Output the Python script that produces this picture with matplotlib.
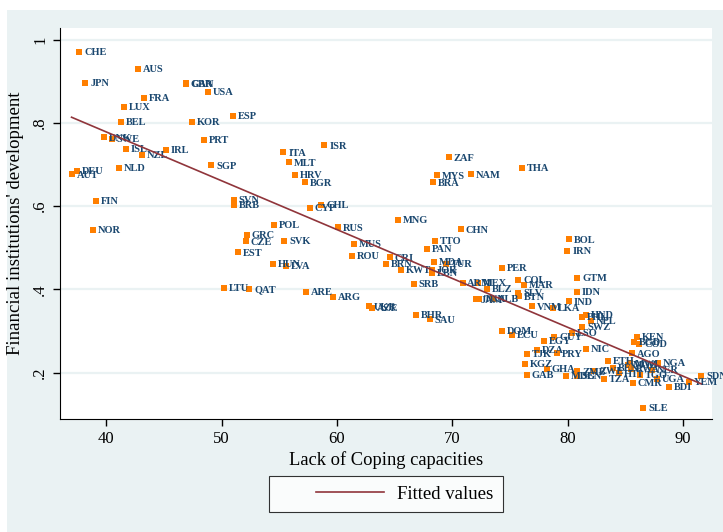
import matplotlib.pyplot as plt
from matplotlib.patches import Rectangle
from matplotlib.legend_handler import HandlerLine2D
import numpy as np

# country codes, lack of coping capacities (x), financial institutions development (y)
codes = ["CHE", "AUS", "JPN", "GBR", "CAN", "USA", "FRA", "LUX", "ESP", "BEL",
         "KOR", "DNK", "SWE", "PRT", "ISL", "IRL", "NZL", "ISR", "ITA", "MLT",
         "ZAF", "THA", "NLD", "SGP", "HRV", "MYS", "NAM", "DEU", "AUT", "BGR",
         "BRA", "FIN", "SVN", "BRB", "CYP", "CHL", "MNG", "NOR", "POL", "RUS",
         "CHN", "GRC", "TTO", "CZE", "SVK", "MUS", "BOL", "PAN", "IRN", "EST",
         "ROU", "CRI", "HUN", "LVA", "BRN", "MDA", "TUR", "KWT", "JOR", "LBN",
         "PER", "GTM", "SRB", "ARM", "MEX", "COL", "MAR", "BLZ", "IDN", "SLV",
         "BTN", "LTU", "QAT", "ARE", "ARG", "JAM", "TUN", "ALB", "IND", "UKR",
         "AZE", "VNM", "LKA", "BHR", "SAU", "HND", "PHL", "NPL", "SWZ", "LSO",
         "GUY", "DOM", "ECU", "EGY", "KEN", "BGD", "COD", "NIC", "DZA", "TJK",
         "PRY", "AGO", "ETH", "NGA", "MOZ", "MWI", "BEN", "RWA", "NER", "HTI",
         "TGO", "TZA", "CMR", "UGA", "BDI", "YEM", "SDN", "SLE", "KGZ", "GAB",
         "GHA", "MDG", "SEN", "ZMB", "ZWE"]
coping = [37.68, 42.72, 38.20, 46.88, 46.95, 48.84, 43.24, 41.52, 50.96, 41.32,
          47.40, 39.81, 40.50, 48.48, 41.72, 45.20, 43.12, 58.92, 55.36, 55.84,
          69.72, 76.00, 41.08, 49.12, 56.40, 68.68, 71.64, 37.44, 37.00, 57.24,
          68.32, 39.08, 51.04, 51.12, 57.64, 58.64, 65.32, 38.84, 54.52, 60.12,
          70.72, 52.20, 68.52, 52.08, 55.44, 61.48, 80.08, 67.80, 79.96, 51.44,
          61.28, 64.60, 54.44, 55.56, 64.28, 68.44, 69.44, 65.52, 68.20, 68.26,
          74.32, 80.84, 66.68, 70.88, 72.20, 75.72, 76.20, 73.00, 80.76, 75.72,
          75.80, 50.20, 52.40, 57.32, 59.68, 72.02, 72.31, 73.50, 80.08, 62.76,
          63.04, 76.92, 78.72, 66.88, 68.04, 81.59, 81.27, 82.00, 81.27, 80.35,
          78.85, 74.32, 75.16, 77.96, 86.04, 85.78, 86.21, 81.59, 77.36, 76.50,
          79.05, 85.60, 83.45, 87.83, 85.20, 85.40, 83.95, 85.49, 87.28, 84.42,
          86.27, 83.17, 85.64, 87.72, 88.79, 90.52, 91.56, 86.56, 76.30, 76.44,
          78.18, 79.83, 80.78, 80.83, 82.31]
findev = [0.971, 0.930, 0.897, 0.895, 0.893, 0.874, 0.860, 0.838, 0.816, 0.802,
          0.802, 0.765, 0.761, 0.760, 0.737, 0.735, 0.724, 0.746, 0.729, 0.705,
          0.717, 0.691, 0.691, 0.698, 0.675, 0.674, 0.676, 0.684, 0.676, 0.657,
          0.657, 0.612, 0.615, 0.603, 0.596, 0.602, 0.566, 0.542, 0.555, 0.549,
          0.544, 0.530, 0.516, 0.515, 0.517, 0.509, 0.520, 0.498, 0.493, 0.489,
          0.481, 0.477, 0.461, 0.456, 0.462, 0.466, 0.461, 0.446, 0.447, 0.439,
          0.451, 0.427, 0.414, 0.416, 0.416, 0.422, 0.410, 0.401, 0.394, 0.392,
          0.383, 0.403, 0.401, 0.394, 0.381, 0.376, 0.377, 0.378, 0.371, 0.359,
          0.356, 0.359, 0.355, 0.339, 0.328, 0.338, 0.333, 0.324, 0.310, 0.296,
          0.286, 0.300, 0.290, 0.277, 0.285, 0.273, 0.269, 0.256, 0.254, 0.244,
          0.246, 0.246, 0.228, 0.224, 0.218, 0.222, 0.212, 0.208, 0.206, 0.198,
          0.194, 0.184, 0.176, 0.184, 0.166, 0.178, 0.192, 0.116, 0.220, 0.195,
          0.208, 0.193, 0.192, 0.203, 0.204]

xticks = [40, 50, 60, 70, 80, 90]
yticks = [0.2, 0.4, 0.6, 0.8, 1.0]
ytick_labels = [".2", ".4", ".6", ".8", "1"]

plt.rcParams['font.family'] = ['Liberation Serif', 'DejaVu Serif']


# stata puts the legend key line on the right part of a wide key area
class RightLine(HandlerLine2D):
    def get_xdata(self, legend, xdescent, ydescent, width, height, fontsize):
        xd = np.array([-xdescent + width * 0.35, -xdescent + width])
        return xd, xd


x = np.array(coping)
y = np.array(findev)
b, a = np.polyfit(x, y, 1)
xfit = np.array([x.min(), x.max()])
yfit = a + b * xfit

fig = plt.figure(figsize=(7.23, 5.32), dpi=100, facecolor="white")
fig.patches.append(Rectangle((7 / 723, 0), 1, 1 - 10 / 532, transform=fig.transFigure,
                             facecolor="#eaf2f3", edgecolor="none", zorder=-10))
ax = fig.add_axes([60 / 723, 1 - 419 / 532, 652 / 723, 391 / 532])
ax.set_facecolor("white")

for t in yticks:
    ax.axhline(t, color="#eaf2f3", lw=1.6, zorder=0)

ax.scatter(x, y, marker="s", s=14, color="#ff7f00", zorder=3, linewidths=0)
for c, xi, yi in zip(codes, x, y):
    ax.annotate(c, (xi, yi), xytext=(3.5, -0.5), textcoords="offset points",
                va="center", ha="left", fontsize=7.5, fontweight="bold",
                color="#1a476f", zorder=4)
fit_line, = ax.plot(xfit, yfit, color="#90353b", lw=1.2, zorder=5, label="Fitted values")

ax.set_xlim(36, 92.5)
ax.set_ylim(0.0885, 1.028)
ax.set_xticks(xticks)
ax.set_yticks(yticks)
ax.set_yticklabels(ytick_labels, rotation=90, va="center")
ax.tick_params(axis="both", labelsize=12, length=5, width=1, direction="out")
ax.spines["top"].set_visible(False)
ax.spines["right"].set_visible(False)
ax.set_xlabel("Lack of Coping capacities", fontsize=13.3, labelpad=3)
ax.set_ylabel("Financial institutions' development", fontsize=13.5, labelpad=6)

leg = fig.legend(handles=[fit_line], loc="center",
                 bbox_to_anchor=(386 / 723, 1 - 494 / 532),
                 handler_map={fit_line: RightLine()},
                 fontsize=13.5, frameon=True, fancybox=False, handlelength=5.6,
                 borderpad=0.5, handletextpad=0.7, borderaxespad=0)
leg.get_frame().set_edgecolor("black")
leg.get_frame().set_linewidth(0.8)

fig.savefig("out.png", dpi=100, facecolor=fig.get_facecolor())
